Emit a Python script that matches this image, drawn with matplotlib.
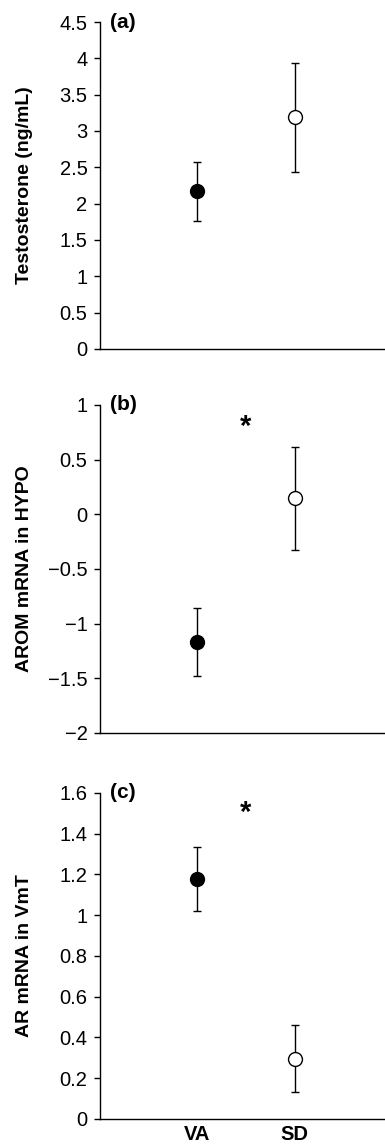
import matplotlib
matplotlib.use("Agg")
import matplotlib.pyplot as plt
import numpy as np

plt.rcParams['font.family'] = ['Liberation Sans', 'DejaVu Sans']

groups = ['VA', 'SD']
x_pos = [1, 2]

# panel values: mean, lower and upper end of the error bar
testo_mean = [2.17, 3.19]
testo_low = [1.76, 2.44]
testo_high = [2.58, 3.93]

arom_mean = [-1.17, 0.15]
arom_low = [-1.48, -0.33]
arom_high = [-0.86, 0.62]

ar_mean = [1.18, 0.295]
ar_low = [1.02, 0.13]
ar_high = [1.335, 0.46]

panels = [
    ('(a)', 'Testosterone (ng/mL)', testo_mean, testo_low, testo_high,
     (0, 4.5), np.arange(0, 4.51, 0.5), ['0', '0.5', '1', '1.5', '2', '2.5', '3', '3.5', '4', '4.5'], None),
    ('(b)', 'AROM mRNA in HYPO', arom_mean, arom_low, arom_high,
     (-2, 1), np.arange(-2, 1.01, 0.5), ['\u22122', '\u22121.5', '\u22121', '\u22120.5', '0', '0.5', '1'], 0.8),
    ('(c)', 'AR mRNA in VmT', ar_mean, ar_low, ar_high,
     (0, 1.6), np.arange(0, 1.61, 0.2), ['0', '0.2', '0.4', '0.6', '0.8', '1', '1.2', '1.4', '1.6'], 1.5),
]

fig = plt.figure(figsize=(3.85, 11.46), dpi=100)
boxes = [[0.26, 0.6955, 0.74, 0.2853],
         [0.26, 0.3604, 0.74, 0.2862],
         [0.26, 0.0236, 0.74, 0.2845]]

for i, (tag, ylab, mean, low, high, ylim, yt, ytl, star) in enumerate(panels):
    ax = fig.add_axes(boxes[i])
    mean = np.array(mean)
    err = [mean - np.array(low), np.array(high) - mean]
    for j in range(2):
        ax.errorbar(x_pos[j], mean[j], yerr=[[err[0][j]], [err[1][j]]], fmt='o',
                    color='black', ecolor='black', elinewidth=1, capsize=3, capthick=1,
                    markersize=10, markeredgewidth=1,
                    markerfacecolor='black' if j == 0 else 'white', markeredgecolor='black',
                    zorder=3)
    ax.set_xlim(0, 2.93)
    ax.set_ylim(*ylim)
    ax.set_yticks(yt)
    ax.set_yticklabels(ytl)
    for s in ['top', 'right']:
        ax.spines[s].set_visible(False)
    ax.spines['left'].set_linewidth(1)
    ax.spines['bottom'].set_linewidth(1)
    ax.tick_params(axis='y', direction='out', length=4, width=1, labelsize=14.5, pad=5)
    ax.set_ylabel(ylab, fontsize=14, fontweight='bold')
    ax.yaxis.set_label_coords(-0.235, 0.5)
    ax.text(0.035, 1.0, tag, transform=ax.transAxes, fontsize=15,
            fontweight='bold', ha='left', va='center')
    if star is not None:
        ax.text(1.5, star, '*', fontsize=21, fontweight='bold', ha='center', va='center')
    if i == 2:
        ax.set_xticks(x_pos)
        ax.set_xticklabels(groups, fontsize=14.5, fontweight='bold')
        ax.tick_params(axis='x', length=0, pad=4)
    else:
        ax.set_xticks([])

fig.savefig('out.png', dpi=100)
